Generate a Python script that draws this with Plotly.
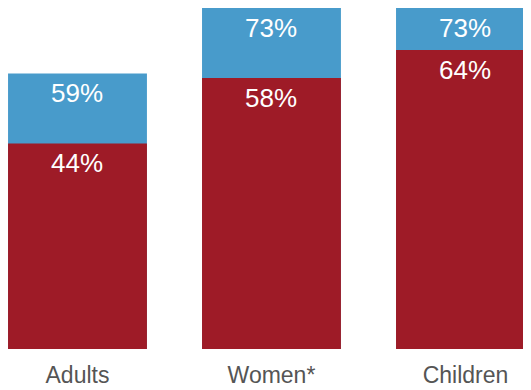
import plotly.graph_objects as go

categories = ["Adults", "Women*", "Children"]
total_values = [59, 73, 73]
base_values = [44, 58, 64]

blue = "#489BCB"
red = "#9E1B27"
font_family = "Liberation Sans, Arial, Helvetica, sans-serif"

x_idx = list(range(len(categories)))

fig = go.Figure()
fig.add_trace(go.Bar(x=x_idx, y=total_values, marker=dict(color=blue, line=dict(width=0)),
                     width=0.716, hoverinfo="skip"))
fig.add_trace(go.Bar(x=x_idx, y=base_values, marker=dict(color=red, line=dict(width=0)),
                     width=0.716, hoverinfo="skip"))

for xi, v in zip(x_idx, total_values):
    fig.add_annotation(x=xi, y=v, text=f"{v}%", showarrow=False, yanchor="middle", yshift=-20,
                       font=dict(family=font_family, size=26, color="white"))
for xi, v in zip(x_idx, base_values):
    fig.add_annotation(x=xi, y=v, text=f"{v}%", showarrow=False, yanchor="middle", yshift=-20,
                       font=dict(family=font_family, size=26, color="white"))

fig.update_layout(
    barmode="overlay",
    width=531, height=390,
    margin=dict(l=0, r=0, t=0, b=49),
    paper_bgcolor="white", plot_bgcolor="white",
    showlegend=False,
    xaxis=dict(tickmode="array", tickvals=x_idx, ticktext=categories, range=[-0.3582, 2.379],
               showgrid=False, zeroline=False, showline=False,
               tickfont=dict(family=font_family, size=23, color="#555555"), ticklabelstandoff=10),
    yaxis=dict(range=[0, 73], visible=False),
)
fig.write_html("out.html")
